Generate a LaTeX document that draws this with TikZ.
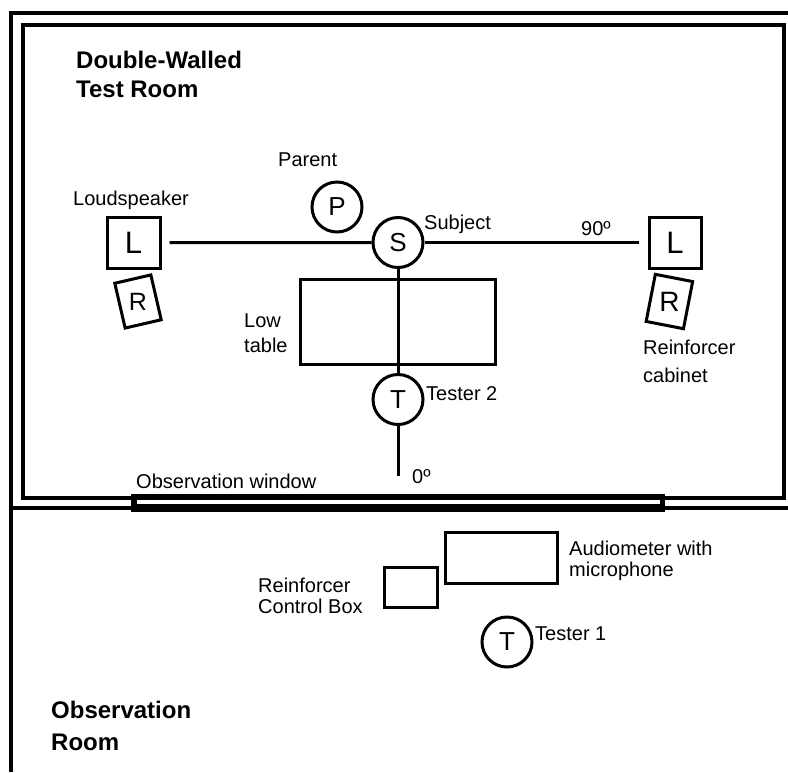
\documentclass[tikz,border=0pt]{standalone}
\usepackage{fontspec}
\setmainfont{Liberation Sans}
\usetikzlibrary{positioning}
\newcommand{\lblfont}{\fontsize{20}{26}\selectfont}
\newcommand{\titlefont}{\fontsize{24}{29}\selectfont\bfseries}
\newcommand{\letterfont}{\fontsize{26}{30}\selectfont}

\begin{document}
\begin{tikzpicture}[
  x=1pt,y=-1pt,
  wall/.style={line width=3.2pt},
  box/.style={draw,line width=3pt,fill=white,inner sep=0pt},
  person/.style={circle,draw,line width=3pt,fill=white,minimum size=50pt,inner sep=0pt,font=\letterfont},
  axis/.style={line width=3pt},
  lbl/.style={font=\lblfont,inner sep=0pt,anchor=base west,align=left},
  title/.style={font=\titlefont,inner sep=0pt,anchor=base west,align=left}
]
\useasboundingbox (0,0) rectangle (788,772);
% walls
\draw[wall] (788,13) -- (11,13) -- (11,772);
\draw[wall] (11,508) -- (788,508);
\draw[wall] (23,25) rectangle (784,498);
% observation window
\fill (131,494) rectangle (665,512);
\fill[white] (137,500) rectangle (660,504);
% test room
\node[box,minimum width=195pt,minimum height=85pt] (table) at (397.5,321.5) {};
\node[box,minimum width=53pt,minimum height=51pt,font=\fontsize{31}{34}\selectfont] (Lleft) at (133.5,242.7) {L};
\node[box,minimum width=52pt,minimum height=51pt,font=\fontsize{31}{34}\selectfont] (Lright) at (675,242.7) {L};
\node[box,minimum width=37pt,minimum height=46pt,rotate=13] (Rleft) at (138,301.5) {};
\node[font=\fontsize{25}{28}\selectfont,inner sep=0pt] at (Rleft.center) {R};
\node[box,minimum width=38pt,minimum height=48pt,rotate=-11] (Rright) at (669.4,301.5) {};
\node[font=\fontsize{28}{30}\selectfont,inner sep=0pt] at (Rright.center) {R};
\node[person] (S) at (398,242.5) {S};
\node[person] (P) at (337,207) {P};
\node[person] (T2) at (398,399.5) {T};
\coordinate (deg90) at (639,242.5);
\coordinate (deg0) at (398,476);
\draw[axis,shorten <=8pt] (Lleft.east) -- (S);
\draw[axis] (S) -- (deg90);
\draw[axis] (S) -- (T2);
\draw[axis] (T2) -- (deg0);
% observation room
\node[box,minimum width=112pt,minimum height=51pt] (audio) at (501,557.5) {};
\node[box,minimum width=53pt,minimum height=40pt] (ctrl) at (410.5,587) {};
\node[person] (T1) at (507,642) {T};
% labels (base = last line)
\node[title] at (76,97) {Double-Walled\\Test Room};
\node[title,font=\fontsize{24}{32}\selectfont\bfseries] at (51,750) {Observation\\Room};
\node[lbl] at (73,205) {Loudspeaker};
\node[lbl] at (278,166) {Parent};
\node[lbl] at (424,229) {Subject};
\node[lbl] at (581,235) {90º};
\node[lbl,font=\fontsize{20}{25}\selectfont] at (244,352) {Low\\table};
\node[lbl,font=\fontsize{20}{27.5}\selectfont] at (643,382) {Reinforcer\\cabinet};
\node[lbl] at (426,400) {Tester 2};
\node[lbl] at (412,483) {0º};
\node[lbl] at (136,488) {Observation window};
\node[lbl,font=\fontsize{20}{21}\selectfont] at (569,576) {Audiometer with\\microphone};
\node[lbl,font=\fontsize{20}{21}\selectfont] at (258,613) {Reinforcer\\Control Box};
\node[lbl] at (535,640) {Tester 1};
\end{tikzpicture}
\end{document}
